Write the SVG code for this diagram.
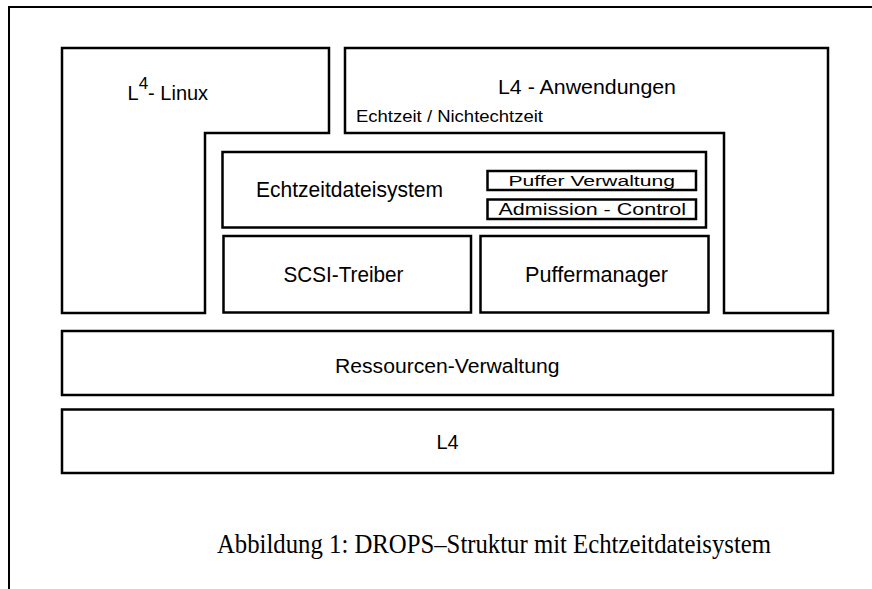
<svg xmlns="http://www.w3.org/2000/svg" width="872" height="589" viewBox="0 0 872 589">
<style>
.b{fill:#fff;stroke:#000;stroke-width:2.5;stroke-linejoin:miter}
.t{font-family:"Liberation Sans",Arial,sans-serif;fill:#000}
.c{font-family:"Liberation Serif","Times New Roman",serif;fill:#000}
</style>
<rect x="0" y="0" width="872" height="589" fill="#fff"/>
<rect x="9" y="7" width="900" height="700" fill="none" stroke="#000" stroke-width="2"/>
<g id="linux">
<polygon class="b" points="62,48 329,48 329,133 205,133 205,313 62,313"/>
<text class="t" x="127.5" y="100" font-size="20">L<tspan dy="-11" font-size="17">4</tspan><tspan dy="11">- Linux</tspan></text>
</g>
<g id="anwendungen">
<polygon class="b" points="345,48 828,48 828,313 724,313 724,133 345,133"/>
<text class="t" x="498" y="94" font-size="20.5" textLength="178" lengthAdjust="spacingAndGlyphs">L4 - Anwendungen</text>
<text class="t" x="356" y="122" font-size="17" textLength="187" lengthAdjust="spacingAndGlyphs">Echtzeit / Nichtechtzeit</text>
</g>
<g id="echtzeitdateisystem">
<rect class="b" x="222.5" y="152" width="483.5" height="75.5"/>
<text class="t" x="256" y="196.5" font-size="21.5" textLength="187" lengthAdjust="spacingAndGlyphs">Echtzeitdateisystem</text>
</g>
<g id="pufferverwaltung">
<rect class="b" x="487.5" y="171" width="208.5" height="19"/>
<text class="t" x="508.5" y="186" font-size="15.5" textLength="166.5" lengthAdjust="spacingAndGlyphs">Puffer Verwaltung</text>
</g>
<g id="admission">
<rect class="b" x="487.5" y="199.5" width="208.5" height="19.5"/>
<text class="t" x="498.5" y="215" font-size="16" textLength="187.5" lengthAdjust="spacingAndGlyphs">Admission - Control</text>
</g>
<g id="scsi">
<rect class="b" x="223.5" y="236" width="247.5" height="76.5"/>
<text class="t" x="283.5" y="281.5" font-size="22.5" textLength="120" lengthAdjust="spacingAndGlyphs">SCSI-Treiber</text>
</g>
<g id="puffermanager">
<rect class="b" x="480.5" y="236" width="228" height="76.5"/>
<text class="t" x="525" y="281.5" font-size="22.5" textLength="143" lengthAdjust="spacingAndGlyphs">Puffermanager</text>
</g>
<g id="ressourcen">
<rect class="b" x="62" y="331" width="771" height="64"/>
<text class="t" x="335" y="372.5" font-size="20.5" textLength="224.5" lengthAdjust="spacingAndGlyphs">Ressourcen-Verwaltung</text>
</g>
<g id="l4">
<rect class="b" x="62" y="409.5" width="771" height="63.5"/>
<text class="t" x="447.5" y="448.5" font-size="20" text-anchor="middle">L4</text>
</g>
<g id="connectors"></g>
<text class="c" x="217" y="553" font-size="27" textLength="554" lengthAdjust="spacingAndGlyphs">Abbildung 1: DROPS–Struktur mit Echtzeitdateisystem</text>
</svg>
